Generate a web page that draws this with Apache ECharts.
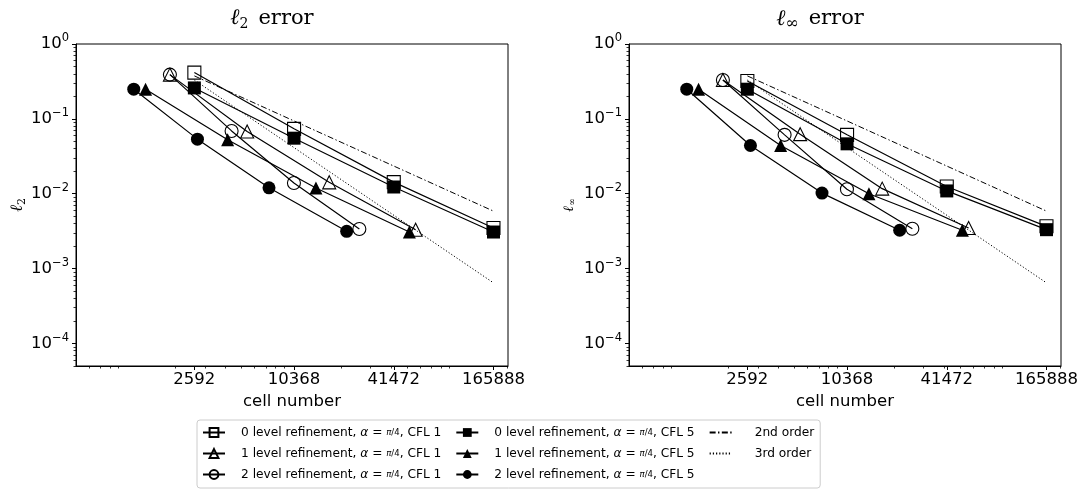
<!DOCTYPE html>
<html><head><meta charset="utf-8">
<script src="https://cdn.jsdelivr.net/npm/echarts@6/dist/echarts.min.js"></script>
<style>html,body{margin:0;padding:0;background:#fff}#c{width:1086px;height:491px}</style>
</head><body><div id="c"></div>
<script>
// ---- cell numbers (x) ----
const cellsLvl0 = [2592, 10368, 41472, 165888];
const cellsLvl1Cfl1 = [1845, 5400, 16900, 56200];
const cellsLvl2Cfl1 = [1845, 4350, 10350, 25700];
const cellsLvl1Cfl5 = [1315, 4117, 14050, 51530];
const cellsLvl2Cfl5 = [1116, 2706, 7317, 21550];

// ---- l2 errors ----
const l2Lvl0Cfl1 = [0.415, 0.0736, 0.0143, 0.00348];
const l2Lvl1Cfl1 = [0.39, 0.0678, 0.0142, 0.00331];
const l2Lvl2Cfl1 = [0.39, 0.069, 0.0139, 0.00338];
const l2Lvl0Cfl5 = [0.259, 0.0552, 0.0123, 0.00308];
const l2Lvl1Cfl5 = [0.249, 0.0525, 0.0119, 0.00308];
const l2Lvl2Cfl5 = [0.249, 0.0536, 0.0120, 0.00315];

// ---- linf errors ----
const linfLvl0Cfl1 = [0.321, 0.0612, 0.0125, 0.00367];
const linfLvl1Cfl1 = [0.331, 0.0625, 0.0117, 0.00349];
const linfLvl2Cfl1 = [0.331, 0.0612, 0.0115, 0.00341];
const linfLvl0Cfl5 = [0.249, 0.0464, 0.0109, 0.00331];
const linfLvl1Cfl5 = [0.249, 0.0441, 0.0100, 0.00325];
const linfLvl2Cfl5 = [0.249, 0.0441, 0.0102, 0.00325];

// ---- reference order lines ----
const orderCells = [2592, 165888];
const order2nd = [0.375, 0.00586];
const order3rd = [0.33, 0.000645];

// ---- ticks ----
const xTicks = [2592, 10368, 41472, 165888];
const xMinorTicks = [600, 700, 800, 900, 2000, 3000, 4000, 5000, 6000, 7000, 8000, 9000,
  20000, 30000, 40000, 50000, 60000, 70000, 80000, 90000, 200000];
const yTicks = [1e-4, 1e-3, 1e-2, 1e-1, 1];
const yMinorTicks = [5e-5, 6e-5, 7e-5, 8e-5, 9e-5,
  2e-4, 3e-4, 4e-4, 5e-4, 6e-4, 7e-4, 8e-4, 9e-4,
  2e-3, 3e-3, 4e-3, 5e-3, 6e-3, 7e-3, 8e-3, 9e-3,
  2e-2, 3e-2, 4e-2, 5e-2, 6e-2, 7e-2, 8e-2, 9e-2,
  0.2, 0.3, 0.4, 0.5, 0.6, 0.7, 0.8, 0.9];

const names = [
  '0 level refinement, α = π/4, CFL 1',
  '1 level refinement, α = π/4, CFL 1',
  '2 level refinement, α = π/4, CFL 1',
  '0 level refinement, α = π/4, CFL 5',
  '1 level refinement, α = π/4, CFL 5',
  '2 level refinement, α = π/4, CFL 5',
  '2nd order',
  '3rd order'
];

const X_MIN = 500, X_MAX = 203000, Y_MIN = 5e-5, Y_MAX = 1;
const GRIDS = [{left: 76, top: 44, width: 432, height: 322}, {left: 629, top: 44, width: 432, height: 322}];
const FONT = 'DejaVu Sans';

function pairs(xs, ys) { return xs.map((x, i) => [x, ys[i]]); }

function dataSeries(name, xs, ys, gi, symbol, filled) {
  return {
    name, type: 'line', xAxisIndex: gi, yAxisIndex: gi,
    data: pairs(xs, ys), symbol, symbolSize: 13, showSymbol: true,
    itemStyle: filled ? {color: '#000', borderWidth: 0}
                      : {color: 'rgba(0,0,0,0)', borderColor: '#000', borderWidth: 1.1},
    lineStyle: {color: '#000', width: 1.2},
    emphasis: {disabled: true}, animation: false
  };
}
function orderSeries(name, ys, gi, type) {
  return {
    name, type: 'line', xAxisIndex: gi, yAxisIndex: gi,
    data: pairs(orderCells, ys), symbol: 'none',
    itemStyle: {color: '#000'},
    lineStyle: {color: '#000', width: 1, type},
    emphasis: {disabled: true}, animation: false
  };
}

const DASHDOT = [6, 2.4, 1.4, 2.4];
const DOTTED = [1.2, 2];

function panelSeries(gi, d) {
  return [
    dataSeries(names[0], cellsLvl0, d[0], gi, 'rect', false),
    dataSeries(names[1], cellsLvl1Cfl1, d[1], gi, 'triangle', false),
    dataSeries(names[2], cellsLvl2Cfl1, d[2], gi, 'circle', false),
    dataSeries(names[3], cellsLvl0, d[3], gi, 'rect', true),
    dataSeries(names[4], cellsLvl1Cfl5, d[4], gi, 'triangle', true),
    dataSeries(names[5], cellsLvl2Cfl5, d[5], gi, 'circle', true),
    orderSeries(names[6], order2nd, gi, DASHDOT),
    orderSeries(names[7], order3rd, gi, DOTTED)
  ];
}

function xMajor(gi) {
  return {
    type: 'log', logBase: 10, gridIndex: gi, min: X_MIN, max: X_MAX,
    axisLine: {show: true, lineStyle: {color: '#000', width: 1}},
    axisTick: {show: true, inside: false, length: 4, customValues: xTicks, lineStyle: {color: '#000', width: 1}},
    axisLabel: {customValues: xTicks, formatter: v => String(Math.round(v)), fontSize: 16.5,
      color: '#000', fontFamily: FONT, margin: 5},
    splitLine: {show: false}, minorTick: {show: false},
    name: 'cell number', nameLocation: 'middle', nameGap: 24,
    nameTextStyle: {fontSize: 16.5, color: '#000', fontFamily: FONT}
  };
}
function xMinor(gi) {
  return {
    type: 'log', logBase: 10, gridIndex: gi, min: X_MIN, max: X_MAX, position: 'bottom',
    axisLine: {show: false}, axisLabel: {show: false}, splitLine: {show: false},
    axisTick: {show: true, inside: false, length: 2.5, customValues: xMinorTicks, lineStyle: {color: '#000', width: 0.8}}
  };
}
const supRich = {
  b: {fontSize: 16.5, fontFamily: FONT, color: '#000', verticalAlign: 'middle'},
  s: {fontSize: 11.5, fontFamily: FONT, color: '#000', verticalAlign: 'middle', padding: [0, 0, 11, 0]}
};
function yMajor(gi, nameRich) {
  return {
    type: 'log', logBase: 10, gridIndex: gi, min: Y_MIN, max: Y_MAX,
    axisLine: {show: true, lineStyle: {color: '#000', width: 1}},
    axisTick: {show: true, inside: false, length: 4, customValues: yTicks, lineStyle: {color: '#000', width: 1}},
    axisLabel: {customValues: yTicks, margin: 7,
      formatter: v => { const e = Math.round(Math.log10(v)); return '{b|10}{s|' + (e < 0 ? '\u2212' + (-e) : e) + '}'; },
      rich: supRich},
    splitLine: {show: false}, minorTick: {show: false},
    name: nameRich.text, nameLocation: 'middle', nameRotate: 90, nameGap: nameRich.gap,
    nameTextStyle: {rich: nameRich.rich}
  };
}
function yMinor(gi) {
  return {
    type: 'log', logBase: 10, gridIndex: gi, min: Y_MIN, max: Y_MAX, position: 'left',
    axisLine: {show: false}, axisLabel: {show: false}, splitLine: {show: false},
    axisTick: {show: true, inside: false, length: 2.5, customValues: yMinorTicks, lineStyle: {color: '#000', width: 0.8}}
  };
}

const serif = 'DejaVu Serif';
const titleRich = {
  l: {fontSize: 22, fontFamily: serif, fontWeight: 'normal', color: '#000', fontStyle: 'italic', verticalAlign: 'middle'},
  s: {fontSize: 14, fontFamily: serif, fontWeight: 'normal', color: '#000', verticalAlign: 'middle', padding: [11, 0, 0, 0]},
  si: {fontSize: 16, fontFamily: serif, fontWeight: 'normal', color: '#000', verticalAlign: 'middle', padding: [10, 0, 0, 0]},
  e: {fontSize: 21, fontFamily: serif, fontWeight: 'normal', color: '#000', verticalAlign: 'middle', padding: [0, 0, 0, 10]}
};

const LFS = 12.2;
const legendRich = {
  p: {fontSize: LFS, fontFamily: FONT, lineHeight: 15, width: 11},
  q: {fontSize: LFS, fontFamily: FONT, lineHeight: 15, width: 18},
  z: {fontSize: LFS, fontFamily: FONT, lineHeight: 15, width: 8},
  t: {fontSize: LFS, fontFamily: FONT, color: '#000', lineHeight: 15},
  a: {fontSize: LFS, fontFamily: FONT, fontStyle: 'italic', color: '#000', lineHeight: 15},
  f: {fontSize: 8.5, fontFamily: FONT, fontStyle: 'italic', color: '#000', lineHeight: 15},
  fs: {fontSize: 8.5, fontFamily: FONT, color: '#000', lineHeight: 15}
};
const FRAC = 'α = π/4';
function legendLabel(n) {
  const k = n.indexOf(FRAC);
  if (k < 0) return '{q| }{t|' + n + '}';
  return '{p| }{t|' + n.slice(0, k) + '}{a|α}{t| = }{f|π}{fs|/}{fs|4}{t|' + n.slice(k + FRAC.length) + '}{z| }';
}

const legendData = names.map((n, i) => i < 6
  ? {name: n}
  : {name: n, itemStyle: {color: 'rgba(0,0,0,0)', borderWidth: 0, opacity: 0}});

const option = {
  backgroundColor: '#fff',
  animation: false,
  title: [
    {text: '{l|ℓ}{s|2}{e|error}', left: 267, top: 1, textAlign: 'center', textStyle: {fontWeight: 'normal', rich: titleRich}},
    {text: '{l|ℓ}{si|∞}{e|error}', left: 815, top: 1, textAlign: 'center', textStyle: {fontWeight: 'normal', rich: titleRich}}
  ],
  grid: GRIDS.map(g => Object.assign({show: true, borderColor: '#000', borderWidth: 1, backgroundColor: 'rgba(0,0,0,0)', containLabel: false}, g)),
  xAxis: [xMajor(0), xMajor(1), xMinor(0), xMinor(1)],
  yAxis: [
    yMajor(0, {text: '{l|ℓ}{s|2}', gap: 48, rich: {
      l: {fontSize: 17, fontFamily: serif, color: '#000', fontStyle: 'italic', verticalAlign: 'middle'},
      s: {fontSize: 11, fontFamily: serif, color: '#000', verticalAlign: 'middle', padding: [8, 0, 0, 0]}}}),
    yMajor(1, {text: '{l|ℓ}{s|∞}', gap: 52, rich: {
      l: {fontSize: 14, fontFamily: serif, color: '#000', fontStyle: 'italic', verticalAlign: 'middle'},
      s: {fontSize: 9, fontFamily: serif, color: '#000', verticalAlign: 'middle', padding: [6, 0, 0, 0]}}}),
    yMinor(0), yMinor(1)
  ],
  legend: {
    data: legendData,
    orient: 'vertical', left: 197, top: 420, height: 60,
    itemWidth: 22, itemHeight: 11, itemGap: 6,
    padding: [5, 6, 6, 5],
    borderColor: '#cccccc', borderWidth: 1, borderRadius: 3,
    selectedMode: false,
    textStyle: {fontSize: LFS, fontFamily: FONT, color: '#000', lineHeight: 15, rich: legendRich},
    formatter: legendLabel
  },
  series: [].concat(
    panelSeries(0, [l2Lvl0Cfl1, l2Lvl1Cfl1, l2Lvl2Cfl1, l2Lvl0Cfl5, l2Lvl1Cfl5, l2Lvl2Cfl5]),
    panelSeries(1, [linfLvl0Cfl1, linfLvl1Cfl1, linfLvl2Cfl1, linfLvl0Cfl5, linfLvl1Cfl5, linfLvl2Cfl5])
  )
};

const chart = echarts.init(document.getElementById('c'), null, {renderer: 'canvas'});
chart.setOption(option);
</script>
</body></html>
